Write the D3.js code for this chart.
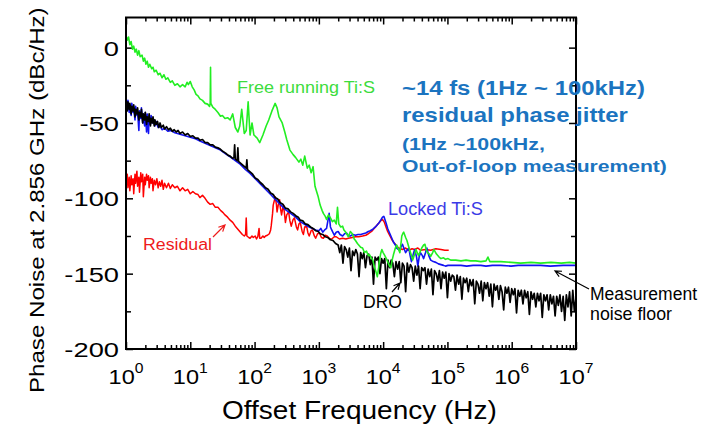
<!DOCTYPE html>
<html><head><meta charset="utf-8">
<script src="https://cdn.jsdelivr.net/npm/d3@7"></script>
<style>body{margin:0;background:#fff}svg{display:block}text{font-family:"Liberation Sans",Arial,sans-serif}</style>
</head><body><svg id="c" width="704" height="429"></svg>
<script>
// ---- data: [log10(offset frequency / Hz), phase noise dBc/Hz] ----
const xTickExps = [0,1,2,3,4,5,6,7];
const yTicks = [0,-50,-100,-150,-200];
const yMinorTicks = [-25,-75,-125,-175];

const freeRunning = [[0.0,8],[0.02,5],[0.04,7],[0.06,2],[0.08,4],[0.1,-1],[0.12,1],[0.14,-3],[0.16,-1],[0.18,-5],[0.2,-2],[0.22,-6],[0.25,-5],[0.27,-9],[0.29,-7],[0.31,-11],[0.33,-9],[0.35,-13],[0.37,-11],[0.4,-14],[0.42,-13],[0.44,-16],[0.47,-15],[0.5,-18],[0.53,-17],[0.56,-20],[0.59,-18],[0.62,-21],[0.65,-20],[0.69,-23],[0.72,-22],[0.76,-25],[0.8,-24],[0.84,-26],[0.88,-24.5],[0.92,-26],[0.95,-23],[0.97,-24.5],[1.0,-22.5],[1.03,-26],[1.06,-28],[1.09,-31],[1.12,-32],[1.15,-34],[1.19,-35],[1.23,-37],[1.27,-37.5],[1.3,-39],[1.31,-37],[1.315,-13],[1.32,-37],[1.35,-39.5],[1.39,-41],[1.43,-43],[1.47,-45.5],[1.5,-45],[1.54,-47],[1.58,-46.5],[1.62,-48],[1.66,-44],[1.7,-53],[1.74,-56],[1.77,-52],[1.8,-41],[1.84,-57],[1.87,-55],[1.9,-36],[1.93,-58],[1.96,-50],[1.99,-58],[2.04,-60],[2.08,-63],[2.13,-58],[2.18,-52],[2.22,-48],[2.27,-42],[2.32,-37],[2.35,-40],[2.38,-46],[2.43,-50],[2.47,-56],[2.5,-61],[2.55,-68],[2.6,-71],[2.64,-73],[2.69,-76],[2.72,-74],[2.75,-78],[2.78,-72],[2.82,-80],[2.85,-78],[2.88,-83],[2.91,-79],[2.94,-92],[2.99,-99],[3.02,-104.5],[3.05,-108],[3.07,-110],[3.1,-112],[3.12,-114],[3.15,-111],[3.18,-113],[3.21,-115.5],[3.24,-114.5],[3.27,-117],[3.29,-106],[3.31,-117],[3.34,-119],[3.37,-118.5],[3.39,-121],[3.41,-122],[3.44,-124],[3.46,-125.5],[3.49,-122],[3.52,-123.5],[3.55,-127],[3.57,-128],[3.6,-130],[3.62,-131],[3.65,-132.5],[3.68,-133],[3.71,-136],[3.74,-135],[3.77,-138],[3.79,-137.5],[3.82,-140],[3.84,-141],[3.86,-145],[3.88,-147.5],[3.91,-152],[3.93,-146],[3.94,-142],[3.96,-137],[3.98,-134],[4.0,-136],[4.02,-137.5],[4.05,-140],[4.07,-142],[4.1,-145],[4.12,-146],[4.14,-141],[4.16,-137.5],[4.19,-133],[4.21,-131],[4.24,-134],[4.26,-136],[4.28,-129],[4.29,-125],[4.31,-123],[4.32,-122.5],[4.35,-126],[4.37,-128],[4.39,-131],[4.41,-134],[4.44,-138],[4.46,-141],[4.49,-137],[4.51,-134],[4.53,-136],[4.55,-138],[4.58,-135],[4.6,-133],[4.63,-131],[4.65,-130.5],[4.67,-134],[4.69,-136],[4.72,-137],[4.74,-138.5],[4.77,-136],[4.79,-134],[4.81,-135.5],[4.83,-137],[4.87,-139],[4.9,-140],[4.94,-139.5],[4.97,-140.5],[5.01,-140],[5.05,-141],[5.13,-141],[5.21,-141.5],[5.29,-141],[5.36,-141.5],[5.44,-141.5],[5.52,-142],[5.6,-141.5],[5.63,-139],[5.66,-142],[5.75,-142],[5.83,-142],[5.99,-142.5],[6.14,-143],[6.3,-142.5],[6.45,-143],[6.61,-142.5],[6.77,-143],[6.9,-142.5],[7.0,-143]];

const lockedTiS = [[0.0,-36],[0.02,-40],[0.03,-35],[0.05,-43],[0.06,-38],[0.08,-45],[0.09,-37],[0.11,-43],[0.12,-40],[0.14,-48],[0.15,-39],[0.17,-45],[0.18,-42],[0.2,-55],[0.21,-42],[0.23,-47],[0.24,-40],[0.26,-50],[0.27,-45],[0.29,-52],[0.3,-43],[0.32,-56],[0.33,-44],[0.35,-57],[0.36,-46],[0.38,-51],[0.39,-45],[0.41,-50],[0.43,-48],[0.45,-52],[0.47,-49],[0.5,-53],[0.53,-52],[0.56,-54.5],[0.6,-53.5],[0.65,-55.5],[0.7,-55],[0.76,-56.5],[0.84,-57.5],[0.92,-58.5],[1.0,-59.5],[1.08,-60.5],[1.15,-62],[1.23,-63.5],[1.31,-65],[1.39,-66.5],[1.47,-68],[1.55,-70.5],[1.62,-72.5],[1.7,-75],[1.78,-77.5],[1.86,-81],[1.93,-83.5],[2.01,-87],[2.09,-90.5],[2.17,-94],[2.25,-97.5],[2.32,-100.5],[2.4,-104],[2.48,-107.5],[2.56,-110],[2.64,-112.5],[2.71,-115.5],[2.79,-117.5],[2.85,-119],[2.9,-120],[2.95,-121],[3.0,-121.5],[3.03,-120],[3.06,-122.5],[3.09,-121],[3.12,-120],[3.16,-110],[3.18,-119],[3.2,-121],[3.24,-124.5],[3.27,-122.5],[3.3,-122],[3.33,-124],[3.37,-125],[3.4,-123.5],[3.43,-123],[3.46,-125],[3.49,-125],[3.53,-124],[3.57,-124.5],[3.61,-124],[3.65,-124],[3.69,-123.5],[3.73,-123],[3.77,-122],[3.8,-121.5],[3.84,-120.5],[3.88,-119],[3.91,-117.5],[3.94,-116],[3.97,-114],[3.99,-112.5],[4.01,-112],[4.02,-113],[4.05,-117],[4.07,-120],[4.1,-123],[4.12,-125],[4.14,-127],[4.16,-129],[4.19,-131],[4.21,-133],[4.24,-134],[4.26,-134.5],[4.28,-132],[4.3,-130.5],[4.33,-134],[4.35,-136],[4.38,-134],[4.4,-133],[4.42,-138],[4.44,-142],[4.47,-137],[4.49,-134],[4.52,-139],[4.54,-145],[4.56,-139],[4.58,-136],[4.61,-138],[4.63,-140],[4.66,-136],[4.68,-133],[4.71,-138],[4.74,-141],[4.78,-142],[4.82,-142.5],[4.86,-143.5],[4.9,-144],[4.94,-144.5],[4.97,-145],[5.01,-144.5],[5.05,-144.5],[5.13,-144.5],[5.21,-144.5],[5.3,-145],[5.4,-144.5],[5.52,-144.5],[5.6,-145],[5.7,-144.5],[5.83,-144.5],[5.99,-145],[6.1,-144.5],[6.25,-144.5],[6.45,-144.5],[6.6,-145],[6.8,-144.5],[7.0,-144.5]];

const residual = [[0.0,-90],[0.02,-84],[0.03,-93],[0.05,-86],[0.06,-95],[0.08,-85],[0.09,-91],[0.11,-87],[0.12,-97],[0.14,-84],[0.15,-90],[0.17,-82],[0.18,-92],[0.2,-86],[0.21,-96],[0.23,-83],[0.24,-89],[0.26,-84],[0.27,-99],[0.29,-86],[0.3,-91],[0.32,-84],[0.33,-88],[0.35,-85],[0.36,-93],[0.38,-86],[0.39,-90],[0.41,-87],[0.42,-95],[0.44,-88],[0.46,-91],[0.48,-87],[0.5,-93],[0.52,-89],[0.54,-92],[0.56,-88],[0.58,-94],[0.6,-90],[0.63,-93],[0.66,-90],[0.69,-93.5],[0.72,-91],[0.76,-93],[0.8,-92],[0.84,-95],[0.88,-93],[0.92,-95],[0.96,-94],[1.0,-97],[1.04,-95.5],[1.08,-97],[1.12,-97.5],[1.15,-99.5],[1.19,-98],[1.23,-100],[1.27,-102.5],[1.31,-104],[1.35,-103.5],[1.39,-106],[1.43,-106],[1.47,-108],[1.51,-109.5],[1.54,-111],[1.58,-112.5],[1.62,-114.5],[1.66,-116],[1.7,-118.5],[1.74,-120.5],[1.78,-122.5],[1.81,-124],[1.84,-125],[1.86,-124],[1.87,-113],[1.88,-125],[1.91,-126],[1.93,-126.5],[1.96,-125],[1.98,-126],[2.01,-125],[2.03,-127],[2.05,-125.5],[2.07,-120],[2.08,-126.5],[2.1,-126.5],[2.13,-125],[2.15,-126],[2.17,-125],[2.2,-124.5],[2.23,-123.5],[2.25,-121],[2.26,-118],[2.28,-110],[2.29,-104.5],[2.31,-101],[2.32,-99],[2.34,-104],[2.35,-109],[2.37,-104],[2.39,-101],[2.4,-106],[2.42,-111],[2.44,-106],[2.45,-104.5],[2.47,-112],[2.48,-116],[2.5,-111],[2.53,-109],[2.55,-115],[2.57,-118.5],[2.6,-114],[2.62,-113],[2.65,-119],[2.67,-121],[2.69,-117],[2.71,-116],[2.74,-122],[2.76,-124],[2.78,-119],[2.81,-118.5],[2.83,-123],[2.85,-125],[2.88,-121.5],[2.9,-121],[2.93,-125],[2.95,-126.5],[2.98,-123.5],[3.01,-123],[3.04,-126],[3.07,-126.5],[3.1,-124.5],[3.13,-125],[3.17,-127],[3.2,-127],[3.24,-125.5],[3.27,-125.5],[3.32,-127],[3.37,-126.5],[3.42,-127],[3.46,-126.5],[3.52,-126],[3.57,-125.5],[3.62,-125.5],[3.68,-125],[3.73,-124.5],[3.77,-123.5],[3.82,-122],[3.87,-119.5],[3.91,-117.5],[3.94,-116],[3.97,-114.5],[3.99,-114],[4.02,-116],[4.04,-118.5],[4.07,-122],[4.1,-124.5],[4.13,-127],[4.16,-129],[4.2,-131],[4.23,-132.5],[4.27,-133.5],[4.3,-134],[4.35,-133],[4.4,-134.5],[4.45,-133.5],[4.49,-134],[4.54,-133],[4.58,-134.5],[4.66,-134],[4.74,-134.5],[4.82,-133.5],[4.9,-134],[4.96,-134.5],[5.02,-134.5]];

const dro = [[0.0,-38],[0.02,-42],[0.03,-36],[0.05,-41],[0.06,-37],[0.08,-44],[0.09,-39],[0.11,-42],[0.12,-38],[0.14,-46],[0.15,-41],[0.17,-44],[0.18,-40],[0.2,-48],[0.21,-43],[0.23,-46],[0.24,-41],[0.26,-50],[0.27,-44],[0.29,-48],[0.3,-43],[0.32,-51],[0.33,-46],[0.35,-49],[0.36,-44],[0.38,-52],[0.39,-47],[0.41,-50],[0.42,-46],[0.44,-52],[0.45,-48],[0.47,-51],[0.49,-49],[0.51,-53],[0.53,-50],[0.55,-53],[0.58,-51.5],[0.6,-54],[0.63,-52.5],[0.66,-54.5],[0.69,-53.5],[0.72,-55.5],[0.75,-54.5],[0.78,-56],[0.81,-55],[0.84,-57],[0.88,-56],[0.92,-58],[0.96,-57],[1.0,-59],[1.04,-58.5],[1.08,-60],[1.12,-60],[1.15,-61.5],[1.19,-61],[1.23,-63],[1.27,-63],[1.31,-64.5],[1.35,-64.5],[1.39,-66],[1.43,-66.5],[1.47,-67.5],[1.51,-69],[1.55,-70],[1.59,-71.5],[1.62,-72],[1.66,-73.5],[1.68,-73],[1.69,-64.5],[1.7,-74],[1.73,-75],[1.74,-66.5],[1.75,-75.5],[1.79,-77],[1.83,-78.5],[1.87,-80],[1.88,-74.5],[1.89,-81],[1.93,-82.5],[1.97,-84],[2.01,-86.5],[2.05,-87.5],[2.09,-89.5],[2.13,-91],[2.17,-93],[2.21,-94],[2.25,-96.5],[2.29,-97.5],[2.32,-99.5],[2.36,-100.5],[2.4,-103],[2.44,-104],[2.48,-106.5],[2.52,-107],[2.56,-109],[2.6,-110],[2.64,-111.5],[2.68,-112.5],[2.71,-114.5],[2.75,-115],[2.79,-117],[2.83,-117.5],[2.87,-119],[2.91,-120],[2.95,-121.5],[2.99,-122],[3.02,-123.5],[3.06,-124],[3.1,-125.5],[3.14,-126],[3.18,-127.5],[3.22,-128],[3.26,-130],[3.3,-131],[3.325,-136],[3.35,-131],[3.375,-143],[3.4,-132],[3.425,-134],[3.45,-139],[3.475,-133],[3.5,-148],[3.525,-135],[3.55,-138],[3.575,-134],[3.6,-137],[3.625,-152],[3.65,-136],[3.675,-140],[3.7,-136],[3.725,-146],[3.75,-138],[3.775,-137],[3.8,-144],[3.825,-139],[3.85,-157],[3.875,-139],[3.9,-141],[3.925,-139],[3.95,-150],[3.975,-140],[4.0,-143],[4.025,-140],[4.05,-160],[4.075,-141],[4.1,-146],[4.125,-141],[4.15,-143],[4.175,-152],[4.2,-142],[4.225,-147],[4.25,-142],[4.275,-156],[4.3,-143],[4.325,-145],[4.35,-162],[4.375,-143],[4.4,-149],[4.425,-144],[4.45,-146],[4.475,-155],[4.5,-145],[4.525,-151],[4.55,-145],[4.575,-160],[4.6,-146],[4.625,-148],[4.65,-146],[4.675,-157],[4.7,-147],[4.725,-152],[4.75,-147],[4.775,-164],[4.8,-148],[4.825,-150],[4.85,-155],[4.875,-148],[4.9,-160],[4.925,-149],[4.95,-153],[4.975,-149],[5.0,-166],[5.025,-150],[5.05,-155],[5.075,-151],[5.1,-152],[5.125,-161],[5.15,-151],[5.175,-157],[5.2,-152],[5.225,-167],[5.25,-153],[5.275,-156],[5.3,-153],[5.325,-162],[5.35,-154],[5.375,-158],[5.4,-154],[5.425,-170],[5.45,-155],[5.475,-157],[5.5,-163],[5.525,-155],[5.55,-168],[5.575,-156],[5.6,-160],[5.625,-156],[5.65,-165],[5.675,-157],[5.7,-172],[5.725,-157],[5.75,-161],[5.775,-158],[5.8,-167],[5.825,-158],[5.85,-162],[5.875,-174],[5.9,-159],[5.925,-163],[5.95,-159],[5.975,-169],[6.0,-160],[6.025,-164],[6.05,-160],[6.075,-176],[6.1,-161],[6.125,-165],[6.15,-161],[6.175,-170],[6.2,-161],[6.225,-166],[6.25,-162],[6.275,-177],[6.3,-162],[6.325,-167],[6.35,-163],[6.375,-172],[6.4,-163],[6.425,-168],[6.45,-163],[6.475,-179],[6.5,-164],[6.525,-168],[6.55,-164],[6.575,-174],[6.6,-164],[6.625,-170],[6.65,-165],[6.675,-178],[6.7,-165],[6.725,-171],[6.75,-164],[6.775,-175],[6.8,-165],[6.825,-181],[6.85,-164],[6.875,-172],[6.9,-162],[6.925,-178],[6.95,-161],[6.975,-175],[7.0,-166]];

// ---- drawing ----
const svg = d3.select("#c");
const x = d3.scaleLog().domain([1,1e7]).range([126,576]);
const y = d3.scaleLinear().domain([-200,20]).range([349,17.5]);
const line = d3.line().x(d => x(Math.pow(10,d[0]))).y(d => y(d[1]));

const majorX = xTickExps.map(e => Math.pow(10,e));
const minorX = [];
xTickExps.slice(0,-1).forEach(e => { for (let k=2;k<=9;k++) minorX.push(k*Math.pow(10,e)); });

function ax(gen, vals, size, tr) {
  const g = svg.append("g").attr("transform", tr)
    .call(gen.tickValues(vals).tickSize(size).tickSizeOuter(0).tickFormat(""));
  g.select(".domain").remove();
  g.selectAll("line").attr("stroke","#000").attr("stroke-width",1.5);
}
ax(d3.axisBottom(x), majorX, -7, "translate(0,349)");
ax(d3.axisBottom(x), minorX, -4, "translate(0,349)");
ax(d3.axisTop(x), majorX, -7, "translate(0,17.5)");
ax(d3.axisTop(x), minorX, -4, "translate(0,17.5)");
ax(d3.axisLeft(y), yTicks, -7, "translate(126,0)");
ax(d3.axisLeft(y), yMinorTicks, -5, "translate(126,0)");
ax(d3.axisRight(y), yTicks, -7, "translate(576,0)");
ax(d3.axisRight(y), yMinorTicks, -5, "translate(576,0)");

// curves
const curves = [[residual,"#ff0000",1.5],[lockedTiS,"#1212f2",1.6],[dro,"#000000",1.7],[freeRunning,"#22ee22",1.6]];
curves.forEach(([d,c,w]) => svg.append("path").datum(d).attr("d",line)
  .attr("fill","none").attr("stroke",c).attr("stroke-width",w).attr("stroke-linejoin","round"));

// frame
svg.append("rect").attr("x",126).attr("y",17.5).attr("width",450).attr("height",331.5)
  .attr("fill","none").attr("stroke","#000").attr("stroke-width",2);

// y tick labels
yTicks.forEach(v => {
  svg.append("text").attr("transform",`translate(119,${y(v)+8}) scale(1.3,1)`)
    .attr("text-anchor","end").attr("font-size",21).attr("fill","#000").text(v);
});
// x tick labels
xTickExps.forEach(e => {
  const t = svg.append("text").attr("transform",`translate(${x(Math.pow(10,e))},384) scale(1.12,1)`)
    .attr("text-anchor","middle").attr("font-size",21).attr("fill","#000");
  t.append("tspan").text("10");
  t.append("tspan").attr("dy",-11).attr("font-size",14).text(e);
});

// text with horizontal stretch fitted to a target width
function lbl(t, px, py, fs, len, col, weight, rot) {
  const el = svg.append("text").attr("font-size",fs).attr("fill",col||"#000")
    .attr("font-weight",weight||"normal").text(t);
  const w = el.node().getComputedTextLength();
  el.attr("transform",`translate(${px},${py})${rot?` rotate(${rot})`:""} scale(${len/w},1)`);
}
lbl("Offset Frequency (Hz)",222,419,25,275);
lbl("Phase Noise at 2.856 GHz (dBc/Hz)",44,393,19.5,386,"#000","normal",-90);
lbl("Free running Ti:S",237,93,17,138,"#3ddc3d");
lbl("Locked Ti:S",388,215,17.5,95,"#3b3be6");
lbl("Residual",143,250,17,69,"#ee1b1b");
lbl("DRO",363,308,17.5,39,"#000");
lbl("Measurement",590,300,17.5,107,"#000");
lbl("noise floor",590,320,17.5,82,"#000");
const blue = "#1b74c0";
lbl("~14 fs (1Hz ~ 100kHz)",402,95,21,243,blue,"bold");
lbl("residual phase jitter",402,122,21,226,blue,"bold");
lbl("(1Hz ~100kHz,",402,150,17,143,blue,"bold");
lbl("Out-of-loop measurement)",402,172,17,265,blue,"bold");

// arrows
function arrow(x1,y1,x2,y2,col) {
  const a = Math.atan2(y2-y1,x2-x1), L=7, s=0.45;
  const p = `M${x1},${y1}L${x2},${y2}M${x2-L*Math.cos(a-s)},${y2-L*Math.sin(a-s)}L${x2},${y2}L${x2-L*Math.cos(a+s)},${y2-L*Math.sin(a+s)}`;
  svg.append("path").attr("d",p).attr("fill","none").attr("stroke",col).attr("stroke-width",1.2);
}
arrow(213,237,225,225,"#ee1b1b");
arrow(392,292,400,283,"#000");
arrow(589,289,555,271,"#000");
</script></body></html>
